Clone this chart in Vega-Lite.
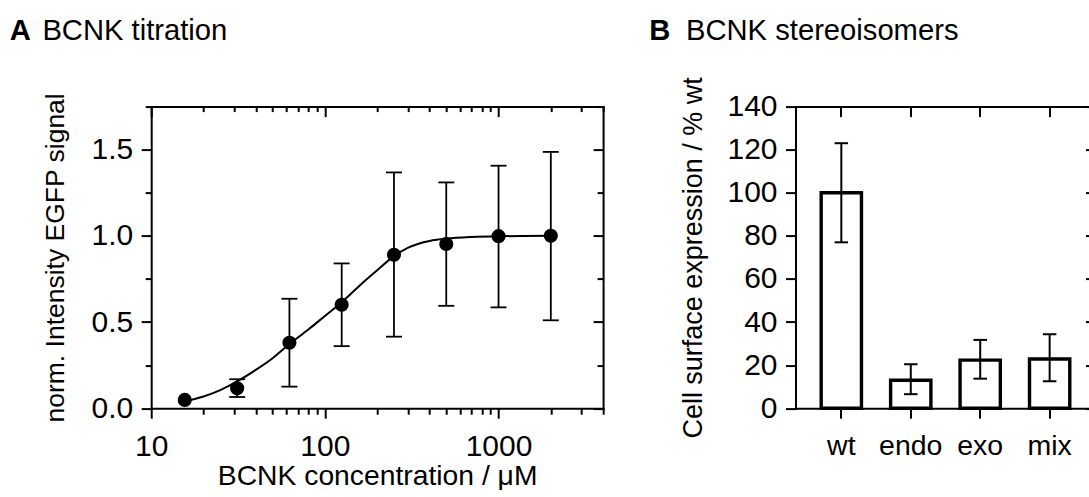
{
  "$schema": "https://vega.github.io/schema/vega-lite/v6.json",
  "padding": {"left": 9.2, "top": 15.6, "right": 0, "bottom": 0},
  "spacing": 44.3,
  "datasets": {
    "fit": [
      {"conc": 15.6, "fit": 0.04}, {"conc": 20, "fit": 0.068}, {"conc": 25, "fit": 0.105},
      {"conc": 31.25, "fit": 0.155}, {"conc": 40, "fit": 0.222}, {"conc": 50, "fit": 0.29},
      {"conc": 62.5, "fit": 0.372}, {"conc": 80, "fit": 0.455}, {"conc": 100, "fit": 0.535},
      {"conc": 125, "fit": 0.615}, {"conc": 160, "fit": 0.715}, {"conc": 200, "fit": 0.8},
      {"conc": 250, "fit": 0.882}, {"conc": 300, "fit": 0.93}, {"conc": 350, "fit": 0.956},
      {"conc": 400, "fit": 0.97}, {"conc": 500, "fit": 0.984}, {"conc": 700, "fit": 0.994},
      {"conc": 1000, "fit": 0.998}, {"conc": 1400, "fit": 0.999}, {"conc": 2000, "fit": 1.0}
    ],
    "pts": [
      {"conc": 15.6, "mean": 0.048, "lo": null, "hi": null},
      {"conc": 31.25, "mean": 0.115, "lo": 0.065, "hi": 0.168},
      {"conc": 62.5, "mean": 0.38, "lo": 0.125, "hi": 0.635},
      {"conc": 125, "mean": 0.6, "lo": 0.36, "hi": 0.84},
      {"conc": 250, "mean": 0.89, "lo": 0.415, "hi": 1.368},
      {"conc": 500, "mean": 0.953, "lo": 0.594, "hi": 1.31},
      {"conc": 1000, "mean": 0.998, "lo": 0.585, "hi": 1.407},
      {"conc": 2000, "mean": 1.0, "lo": 0.51, "hi": 1.487}
    ],
    "bars": [
      {"cat": "wt", "val": 100, "lo": 77, "hi": 123},
      {"cat": "endo", "val": 13, "lo": 6.5, "hi": 20.4},
      {"cat": "exo", "val": 22.3, "lo": 13.7, "hi": 31.7},
      {"cat": "mix", "val": 22.8, "lo": 12.5, "hi": 34.3}
    ]
  },
  "hconcat": [
    {
      "width": 451.9,
      "height": 301.6,
      "layer": [
        {
          "data": {"name": "fit"},
          "mark": {"type": "line", "color": "black", "strokeWidth": 2, "interpolate": "monotone"},
          "encoding": {
            "x": {"field": "conc", "type": "quantitative",
              "scale": {"type": "log", "domain": [10, 4000], "nice": false},
              "axis": {"orient": "top", "values": [10,20,30,40,50,60,70,80,90,100,200,300,400,500,600,700,800,900,1000,2000,3000,4000],
                "labels": false,
                "tickSize": {"condition": {"test": "datum.value == 10 || datum.value == 100 || datum.value == 1000", "value": -10}, "value": -5},
                "title": "BCNK titration", "titleFontSize": 29.2, "titleFontWeight": "normal", "titleAngle": 0,
                "titleX": -109.3, "titleY": -67.2, "titleAlign": "left", "titleBaseline": "alphabetic"}},
            "y": {"field": "fit", "type": "quantitative",
              "scale": {"domain": [0, 1.75], "nice": false, "zero": false},
              "axis": {"orient": "right", "values": [0,0.25,0.5,0.75,1,1.25,1.5,1.75], "labels": false,
                "tickSize": {"condition": {"test": "datum.value % 0.5 == 0", "value": -10}, "value": -6},
                "title": "A", "titleFontSize": 29.2, "titleFontWeight": "bold", "titleAngle": 0,
                "titleX": -593.9, "titleY": -67.2, "titleAlign": "left", "titleBaseline": "alphabetic"}}
          }
        },
        {
          "data": {"name": "pts"},
          "transform": [{"filter": "isValid(datum.lo)"}],
          "mark": {"type": "rule", "color": "black", "strokeWidth": 1.8},
          "encoding": {
            "x": {"field": "conc", "type": "quantitative", "scale": {"type": "log", "domain": [10, 4000], "nice": false}, "axis": null},
            "y": {"field": "lo", "type": "quantitative", "scale": {"domain": [0, 1.75], "nice": false, "zero": false}, "axis": null},
            "y2": {"field": "hi"}
          }
        },
        {
          "data": {"name": "pts"},
          "transform": [{"filter": "isValid(datum.lo)"}],
          "mark": {"type": "tick", "orient": "horizontal", "size": 16, "thickness": 1.8, "color": "black", "opacity": 1},
          "encoding": {
            "x": {"field": "conc", "type": "quantitative", "scale": {"type": "log", "domain": [10, 4000], "nice": false}, "axis": null},
            "y": {"field": "lo", "type": "quantitative", "scale": {"domain": [0, 1.75], "nice": false, "zero": false}, "axis": null}
          }
        },
        {
          "data": {"name": "pts"},
          "transform": [{"filter": "isValid(datum.hi)"}],
          "mark": {"type": "tick", "orient": "horizontal", "size": 16, "thickness": 1.8, "color": "black", "opacity": 1},
          "encoding": {
            "x": {"field": "conc", "type": "quantitative", "scale": {"type": "log", "domain": [10, 4000], "nice": false}, "axis": null},
            "y": {"field": "hi", "type": "quantitative", "scale": {"domain": [0, 1.75], "nice": false, "zero": false}, "axis": null}
          }
        },
        {
          "data": {"name": "pts"},
          "mark": {"type": "circle", "size": 200, "color": "black", "opacity": 1},
          "encoding": {
            "x": {"field": "conc", "type": "quantitative",
              "scale": {"type": "log", "domain": [10, 4000], "nice": false},
              "axis": {"orient": "bottom", "values": [10,20,30,40,50,60,70,80,90,100,200,300,400,500,600,700,800,900,1000,2000,3000,4000],
                "labelExpr": "(datum.value == 10 || datum.value == 100 || datum.value == 1000) ? format(datum.value, 'd') : ''",
                "tickSize": {"condition": {"test": "datum.value == 10 || datum.value == 100 || datum.value == 1000", "value": 10}, "value": 6},
                "labelPadding": 13.5, "title": "BCNK concentration / μM", "titleFontSize": 28.3, "titlePadding": 1}},
            "y": {"field": "mean", "type": "quantitative",
              "scale": {"domain": [0, 1.75], "nice": false, "zero": false},
              "axis": {"orient": "left", "values": [0,0.25,0.5,0.75,1,1.25,1.5,1.75],
                "labelExpr": "datum.value % 0.5 == 0 ? format(datum.value, '.1f') : ''",
                "tickSize": {"condition": {"test": "datum.value % 0.5 == 0", "value": 10}, "value": 6},
                "labelPadding": 8.5, "title": "norm. Intensity EGFP signal", "titleFontSize": 26.5, "titlePadding": 22}}
          }
        }
      ],
      "resolve": {"axis": {"x": "independent", "y": "independent"}}
    },
    {
      "width": 300,
      "height": 301.6,
      "data": {"name": "bars"},
      "layer": [
        {
          "mark": {"type": "bar", "fill": "white", "stroke": "black", "strokeWidth": 3.4, "opacity": 1},
          "encoding": {
            "x": {"field": "cat", "type": "nominal",
              "scale": {"domain": ["wt", "endo", "exo", "mix"], "paddingInner": 0.42, "paddingOuter": 0.37},
              "axis": {"orient": "bottom", "labelAngle": 0, "tickSize": 10, "labelPadding": 13.5, "labelFontSize": 28.5, "title": null}},
            "y": {"field": "val", "type": "quantitative",
              "scale": {"domain": [0, 140], "nice": false},
              "axis": {"orient": "left", "values": [0,20,40,60,80,100,120,140], "tickSize": 10, "labelPadding": 8.5,
                "title": "Cell surface expression / % wt", "titlePadding": 19}}
          }
        },
        {
          "mark": {"type": "rule", "color": "black", "strokeWidth": 2},
          "encoding": {
            "x": {"field": "cat", "type": "nominal",
              "scale": {"domain": ["wt", "endo", "exo", "mix"], "paddingInner": 0.42, "paddingOuter": 0.37},
              "axis": {"orient": "top", "labels": false, "tickSize": -10,
                "title": "BCNK stereoisomers", "titleFontSize": 29.2, "titleFontWeight": "normal", "titleAngle": 0,
                "titleX": -110, "titleY": -67.2, "titleAlign": "left", "titleBaseline": "alphabetic"}},
            "y": {"field": "lo", "type": "quantitative",
              "scale": {"domain": [0, 140], "nice": false},
              "axis": {"orient": "right", "values": [0,20,40,60,80,100,120,140], "labels": false, "tickSize": -10,
                "title": "B", "titleFontSize": 29.2, "titleFontWeight": "bold", "titleAngle": 0,
                "titleX": -446.7, "titleY": -67.2, "titleAlign": "left", "titleBaseline": "alphabetic"}},
            "y2": {"field": "hi"}
          }
        },
        {
          "mark": {"type": "tick", "orient": "horizontal", "size": 13.5, "thickness": 2, "color": "black", "opacity": 1},
          "encoding": {
            "x": {"field": "cat", "type": "nominal",
              "scale": {"domain": ["wt", "endo", "exo", "mix"], "paddingInner": 0.42, "paddingOuter": 0.37}, "axis": null},
            "y": {"field": "lo", "type": "quantitative", "scale": {"domain": [0, 140], "nice": false}, "axis": null}
          }
        },
        {
          "mark": {"type": "tick", "orient": "horizontal", "size": 13.5, "thickness": 2, "color": "black", "opacity": 1},
          "encoding": {
            "x": {"field": "cat", "type": "nominal",
              "scale": {"domain": ["wt", "endo", "exo", "mix"], "paddingInner": 0.42, "paddingOuter": 0.37}, "axis": null},
            "y": {"field": "hi", "type": "quantitative", "scale": {"domain": [0, 140], "nice": false}, "axis": null}
          }
        }
      ],
      "resolve": {"axis": {"x": "independent", "y": "independent"}}
    }
  ],
  "config": {
    "view": {"stroke": null},
    "font": "Liberation Sans",
    "axis": {
      "domainColor": "black", "domainWidth": 2, "domainCap": "square",
      "tickColor": "black", "tickWidth": 2,
      "labelColor": "black", "titleColor": "black",
      "labelFont": "Liberation Sans", "titleFont": "Liberation Sans",
      "labelFontSize": 30, "titleFontSize": 27, "titleFontWeight": "normal",
      "grid": false, "labelFlush": false, "labelOverlap": false
    }
  }
}
